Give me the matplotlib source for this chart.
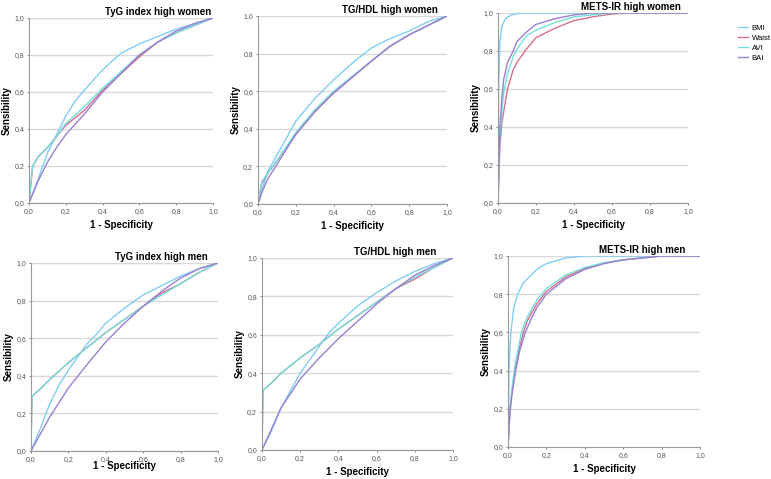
import matplotlib
matplotlib.use('Agg')
import matplotlib.pyplot as plt
from matplotlib.ticker import FuncFormatter

plt.rcParams['font.family'] = ['Liberation Sans', 'DejaVu Sans']

series_names = ['BMI', 'Waist', 'AVI', 'BAI']
series_colors = ['#80cdf5', '#d4708c', '#72e0dc', '#9a7fd2']

# (1 - specificity, sensitivity) pairs
tyg_women = {
    'BMI':   ([0, 0.05, 0.1, 0.15, 0.2, 0.25, 0.3, 0.4, 0.5, 0.6, 0.7, 0.8, 0.9, 1.0],
              [0, 0.13, 0.27, 0.37, 0.47, 0.55, 0.61, 0.72, 0.81, 0.86, 0.90, 0.94, 0.97, 1.0]),
    'Waist': ([0, 0.02, 0.05, 0.1, 0.15, 0.2, 0.3, 0.4, 0.5, 0.6, 0.7, 0.8, 0.9, 1.0],
              [0, 0.20, 0.25, 0.30, 0.36, 0.42, 0.50, 0.61, 0.70, 0.79, 0.87, 0.92, 0.96, 1.0]),
    'AVI':   ([0, 0.02, 0.05, 0.1, 0.15, 0.2, 0.3, 0.4, 0.5, 0.6, 0.7, 0.8, 0.9, 1.0],
              [0, 0.20, 0.25, 0.30, 0.36, 0.43, 0.52, 0.62, 0.71, 0.80, 0.87, 0.92, 0.96, 1.0]),
    'BAI':   ([0, 0.05, 0.1, 0.15, 0.2, 0.3, 0.4, 0.5, 0.6, 0.7, 0.8, 0.9, 1.0],
              [0, 0.12, 0.22, 0.30, 0.37, 0.48, 0.60, 0.70, 0.80, 0.87, 0.93, 0.97, 1.0]),
}
tghdl_women = {
    'BMI':   ([0, 0.05, 0.1, 0.15, 0.2, 0.3, 0.4, 0.5, 0.6, 0.7, 0.8, 0.9, 1.0],
              [0, 0.17, 0.26, 0.35, 0.44, 0.56, 0.66, 0.75, 0.83, 0.88, 0.92, 0.97, 1.0]),
    'Waist': ([0, 0.02, 0.05, 0.1, 0.2, 0.3, 0.4, 0.5, 0.6, 0.7, 0.8, 0.9, 1.0],
              [0, 0.11, 0.16, 0.23, 0.37, 0.49, 0.59, 0.675, 0.76, 0.84, 0.90, 0.95, 1.0]),
    'AVI':   ([0, 0.02, 0.05, 0.1, 0.2, 0.3, 0.4, 0.5, 0.6, 0.7, 0.8, 0.9, 1.0],
              [0, 0.12, 0.16, 0.23, 0.38, 0.50, 0.60, 0.68, 0.76, 0.84, 0.90, 0.95, 1.0]),
    'BAI':   ([0, 0.02, 0.05, 0.1, 0.2, 0.3, 0.4, 0.5, 0.6, 0.7, 0.8, 0.9, 1.0],
              [0, 0.06, 0.13, 0.21, 0.37, 0.49, 0.59, 0.675, 0.76, 0.84, 0.90, 0.95, 1.0]),
}
metsir_women = {
    'BMI':   ([0, 0.003, 0.01, 0.02, 0.04, 0.07, 0.12, 1.0],
              [0, 0.60, 0.85, 0.93, 0.97, 0.99, 1.0, 1.0]),
    'Waist': ([0, 0.01, 0.02, 0.05, 0.08, 0.1, 0.15, 0.2, 0.3, 0.4, 0.5, 0.6, 0.7, 1.0],
              [0, 0.30, 0.42, 0.60, 0.70, 0.74, 0.81, 0.87, 0.92, 0.96, 0.98, 0.995, 1.0, 1.0]),
    'AVI':   ([0, 0.01, 0.02, 0.03, 0.05, 0.08, 0.1, 0.15, 0.2, 0.3, 0.4, 0.5, 0.6, 1.0],
              [0, 0.35, 0.48, 0.58, 0.68, 0.77, 0.81, 0.88, 0.91, 0.95, 0.98, 0.99, 1.0, 1.0]),
    'BAI':   ([0, 0.01, 0.02, 0.03, 0.05, 0.08, 0.1, 0.15, 0.2, 0.3, 0.4, 0.5, 1.0],
              [0, 0.40, 0.55, 0.65, 0.74, 0.80, 0.85, 0.90, 0.94, 0.97, 0.99, 1.0, 1.0]),
}
tyg_men = {
    'BMI':   ([0, 0.05, 0.1, 0.15, 0.2, 0.3, 0.35, 0.4, 0.5, 0.6, 0.7, 0.8, 0.9, 1.0],
              [0, 0.12, 0.25, 0.35, 0.43, 0.57, 0.62, 0.68, 0.76, 0.83, 0.88, 0.93, 0.97, 1.0]),
    'Waist': ([0, 0.005, 0.05, 0.1, 0.2, 0.3, 0.4, 0.5, 0.6, 0.7, 0.8, 0.9, 1.0],
              [0, 0.29, 0.33, 0.38, 0.47, 0.55, 0.63, 0.70, 0.77, 0.84, 0.89, 0.95, 1.0]),
    'AVI':   ([0, 0.005, 0.05, 0.1, 0.2, 0.3, 0.4, 0.5, 0.6, 0.7, 0.8, 0.9, 1.0],
              [0, 0.29, 0.33, 0.38, 0.47, 0.55, 0.63, 0.70, 0.77, 0.83, 0.89, 0.95, 1.0]),
    'BAI':   ([0, 0.05, 0.1, 0.2, 0.3, 0.4, 0.5, 0.6, 0.7, 0.8, 0.9, 1.0],
              [0, 0.09, 0.18, 0.335, 0.46, 0.58, 0.68, 0.77, 0.85, 0.92, 0.97, 1.0]),
}
tghdl_men = {
    'BMI':   ([0, 0.05, 0.1, 0.2, 0.3, 0.35, 0.4, 0.5, 0.6, 0.7, 0.8, 0.9, 1.0],
              [0, 0.10, 0.22, 0.40, 0.54, 0.61, 0.66, 0.75, 0.82, 0.88, 0.93, 0.97, 1.0]),
    'Waist': ([0, 0.005, 0.05, 0.1, 0.2, 0.3, 0.4, 0.5, 0.6, 0.7, 0.8, 0.9, 1.0],
              [0, 0.31, 0.35, 0.40, 0.48, 0.55, 0.63, 0.70, 0.77, 0.84, 0.89, 0.95, 1.0]),
    'AVI':   ([0, 0.005, 0.05, 0.1, 0.2, 0.3, 0.4, 0.5, 0.6, 0.7, 0.8, 0.9, 1.0],
              [0, 0.31, 0.35, 0.40, 0.48, 0.55, 0.63, 0.70, 0.77, 0.84, 0.90, 0.95, 1.0]),
    'BAI':   ([0, 0.05, 0.1, 0.2, 0.3, 0.4, 0.5, 0.6, 0.7, 0.8, 0.9, 1.0],
              [0, 0.11, 0.22, 0.37, 0.48, 0.58, 0.67, 0.76, 0.84, 0.91, 0.96, 1.0]),
}
metsir_men = {
    'BMI':   ([0, 0.005, 0.01, 0.015, 0.03, 0.05, 0.08, 0.12, 0.15, 0.2, 0.3, 0.4, 1.0],
              [0, 0.40, 0.52, 0.60, 0.73, 0.80, 0.86, 0.90, 0.93, 0.96, 0.99, 1.0, 1.0]),
    'Waist': ([0, 0.01, 0.02, 0.04, 0.06, 0.08, 0.1, 0.15, 0.2, 0.3, 0.4, 0.5, 0.6, 0.7, 0.8, 1.0],
              [0, 0.19, 0.29, 0.42, 0.52, 0.60, 0.66, 0.75, 0.815, 0.89, 0.935, 0.963, 0.98, 0.99, 1.0, 1.0]),
    'AVI':   ([0, 0.01, 0.02, 0.035, 0.05, 0.07, 0.1, 0.15, 0.2, 0.3, 0.4, 0.5, 0.6, 0.7, 0.8, 1.0],
              [0, 0.20, 0.30, 0.42, 0.50, 0.60, 0.68, 0.77, 0.83, 0.90, 0.94, 0.965, 0.98, 0.99, 1.0, 1.0]),
    'BAI':   ([0, 0.01, 0.02, 0.04, 0.06, 0.09, 0.12, 0.15, 0.2, 0.3, 0.4, 0.5, 0.6, 0.7, 0.8, 1.0],
              [0, 0.18, 0.27, 0.40, 0.50, 0.60, 0.67, 0.73, 0.80, 0.88, 0.93, 0.96, 0.98, 0.99, 1.0, 1.0]),
}

panels = [
    ('TyG index high women', tyg_women, [0.0376, 0.5762, 0.2387, 0.3862], 3.5),
    ('TG/HDL high women', tghdl_women, [0.3346, 0.5741, 0.2451, 0.3925], 3.5),
    ('METS-IR high women', metsir_women, [0.6459, 0.5762, 0.2464, 0.3967], 3.5),
    ('TyG index high men', tyg_men, [0.0402, 0.0585, 0.2425, 0.3925], -1.0),
    ('TG/HDL high men', tghdl_men, [0.3398, 0.0605, 0.2477, 0.4008], 3.5),
    ('METS-IR high men', metsir_men, [0.6589, 0.0668, 0.2490, 0.3987], 3.5),
]

comma = FuncFormatter(lambda v, p: ('%.1f' % v).replace('.', ','))

fig = plt.figure(figsize=(7.71, 4.79), dpi=100)
handles = []
for title, data, rect, xpad in panels:
    ax = fig.add_axes(rect)
    for name, color in zip(series_names, series_colors):
        xs, ys = data[name]
        ln, = ax.plot(xs, ys, color=color, lw=1.0, label=name)
        if len(handles) < 4:
            handles.append(ln)
    ax.set_xlim(0, 1)
    ax.set_ylim(0, 1)
    ax.set_xticks([0, 0.2, 0.4, 0.6, 0.8, 1.0])
    ax.set_yticks([0, 0.2, 0.4, 0.6, 0.8, 1.0])
    ax.xaxis.set_major_formatter(comma)
    ax.yaxis.set_major_formatter(comma)
    ax.grid(axis='y', color='#d8d8d8', lw=1.0)
    ax.set_axisbelow(True)
    for s in ['top', 'right']:
        ax.spines[s].set_visible(False)
    for s in ['left', 'bottom']:
        ax.spines[s].set_color('#9a9a9a')
        ax.spines[s].set_linewidth(0.8)
    ax.tick_params(labelsize=5, colors='#555555', length=1.5, width=0.5, pad=2)
    ax.set_xlabel('1 - Specificity', fontsize=7, fontweight='bold', labelpad=xpad)
    ax.set_ylabel('Sensibility', fontsize=7, fontweight='bold', labelpad=2)
    ax.text(0.70, 1.03, title, transform=ax.transAxes, ha='center', va='center',
            fontsize=7, fontweight='bold')

fig.legend(handles=handles, loc='upper left', bbox_to_anchor=(0.953, 0.955),
           frameon=False, fontsize=5.5, handlelength=1.3, handletextpad=0.5,
           labelspacing=0.35, borderaxespad=0)

fig.savefig('out.png', dpi=100)
